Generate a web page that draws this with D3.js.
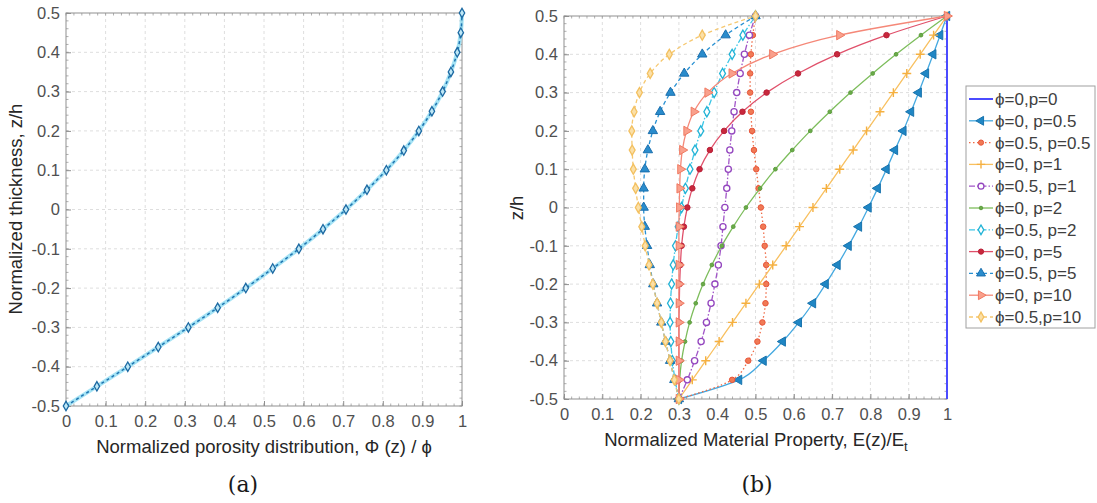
<!DOCTYPE html>
<html>
<head>
<meta charset="utf-8">
<script src="https://cdn.jsdelivr.net/npm/d3@7"></script>
<style>
  body { margin: 0; background: #fff; }
  text { font-family: "Liberation Sans", Arial, sans-serif; }
</style>
</head>
<body>
<svg id="chart" width="1097" height="503"></svg>
<script>
// Through-thickness positions z/h
const zLevels = [-0.5,-0.45,-0.4,-0.35,-0.3,-0.25,-0.2,-0.15,-0.1,-0.05,0,0.05,0.1,0.15,0.2,0.25,0.3,0.35,0.4,0.45,0.5];

// (a) normalized porosity distribution Φ(z)/ϕ
const porosityDistribution = [0,0.078,0.156,0.233,0.309,0.383,0.454,0.522,0.588,0.649,0.707,0.760,0.809,0.853,0.891,0.924,0.951,0.972,0.988,0.997,1.000];

// (b) normalized material property E(z)/Et
const E_phi0_p0    = [1,1,1,1,1,1,1,1,1,1,1,1,1,1,1,1,1,1,1,1,1];
const E_phi0_p05   = [0.300,0.457,0.521,0.571,0.613,0.650,0.683,0.714,0.743,0.770,0.795,0.819,0.842,0.864,0.886,0.906,0.926,0.945,0.964,0.982,1.000];
const E_phi05_p05  = [0.300,0.439,0.481,0.505,0.518,0.526,0.528,0.528,0.524,0.520,0.514,0.508,0.502,0.496,0.491,0.488,0.486,0.486,0.488,0.493,0.500];
const E_phi0_p1    = [0.300,0.335,0.370,0.405,0.440,0.475,0.510,0.545,0.580,0.615,0.650,0.685,0.720,0.755,0.790,0.825,0.860,0.895,0.930,0.965,1.000];
const E_phi05_p1   = [0.300,0.322,0.341,0.358,0.372,0.384,0.394,0.403,0.410,0.415,0.420,0.425,0.429,0.433,0.438,0.444,0.451,0.460,0.471,0.484,0.500];
const E_phi0_p2    = [0.300,0.302,0.307,0.316,0.328,0.344,0.363,0.386,0.412,0.442,0.475,0.512,0.552,0.596,0.643,0.694,0.748,0.806,0.867,0.932,1.000];
const E_phi05_p2   = [0.300,0.290,0.283,0.279,0.277,0.278,0.281,0.285,0.291,0.298,0.307,0.317,0.329,0.342,0.357,0.373,0.392,0.414,0.439,0.467,0.500];
const E_phi0_p5    = [0.300,0.300,0.300,0.300,0.300,0.301,0.302,0.304,0.307,0.313,0.322,0.335,0.354,0.381,0.418,0.466,0.529,0.611,0.713,0.842,1.000];
const E_phi05_p5   = [0.300,0.288,0.277,0.265,0.254,0.243,0.233,0.224,0.217,0.211,0.208,0.208,0.211,0.219,0.232,0.251,0.278,0.314,0.361,0.422,0.500];
const E_phi0_p10   = [0.300,0.300,0.300,0.300,0.300,0.300,0.300,0.300,0.300,0.300,0.301,0.302,0.304,0.309,0.320,0.339,0.375,0.438,0.544,0.719,1.000];
const E_phi05_p10  = [0.300,0.288,0.277,0.265,0.254,0.243,0.232,0.222,0.212,0.203,0.194,0.187,0.181,0.178,0.177,0.183,0.197,0.225,0.275,0.361,0.500];

const seriesNames = ["ϕ=0,p=0","ϕ=0, p=0.5","ϕ=0.5, p=0.5","ϕ=0, p=1","ϕ=0.5, p=1","ϕ=0, p=2","ϕ=0.5, p=2","ϕ=0, p=5","ϕ=0.5, p=5","ϕ=0, p=10","ϕ=0.5,p=10"];
const seriesValues = [E_phi0_p0,E_phi0_p05,E_phi05_p05,E_phi0_p1,E_phi05_p1,E_phi0_p2,E_phi05_p2,E_phi0_p5,E_phi05_p5,E_phi0_p10,E_phi05_p10];

// Tick values
const unitTicks = [0,0.1,0.2,0.3,0.4,0.5,0.6,0.7,0.8,0.9,1];
const zTicks = [-0.5,-0.4,-0.3,-0.2,-0.1,0,0.1,0.2,0.3,0.4,0.5];

// Line / marker styles for the right-hand plot
const seriesStyles = [
  {line:"#4b4bff", width:2,   dash:null,     marker:null},
  {line:"#45a9e0", width:1.3, dash:null,     marker:"left",    mc:"#1873ad", mf:"#1f86c4"},
  {line:"#ef6a45", width:1.3, dash:"1.5,2.5",marker:"circle",  mc:"#e8553a", mf:"#f07a55"},
  {line:"#f8c060", width:1.3, dash:null,     marker:"plus",    mc:"#f5b040", mf:"none"},
  {line:"#a155c8", width:1.3, dash:"6,2,1.5,2", marker:"ocircle", mc:"#9447bf", mf:"#fff"},
  {line:"#7dbd5c", width:1.3, dash:null,     marker:"dot",     mc:"#5e9e40", mf:"#6aab48"},
  {line:"#3cc6e6", width:1.3, dash:"6,2,1.5,2", marker:"diamond", mc:"#22b3d6", mf:"#fff"},
  {line:"#e0506a", width:1.3, dash:null,     marker:"circle",  mc:"#b81f38", mf:"#c8283c"},
  {line:"#2790d2", width:1.3, dash:"4,3",    marker:"up",      mc:"#1a6fae", mf:"#2a8ccc"},
  {line:"#f58878", width:1.3, dash:null,     marker:"right",   mc:"#f07a62", mf:"#f9a08c"},
  {line:"#f6c870", width:1.3, dash:"4,3",    marker:"diamond", mc:"#f3c060", mf:"#fbe0a8"}
];

const svg = d3.select("#chart");
svg.append("rect").attr("width",1097).attr("height",503).attr("fill","#fff");

const tickFmt = d => String(+(+d).toFixed(2));

function drawFrame(xr, yr, yPad) {
  const xs = d3.scaleLinear().domain([0,1]).range(xr);
  const ys = d3.scaleLinear().domain([-0.5,0.5]).range(yr);
  const g = svg.append("g");
  const [xL,xR] = xr, [yB,yT] = yr;

  // dashed grid
  g.append("g").selectAll("line").data(unitTicks.slice(1,-1)).join("line")
    .attr("x1",d=>xs(d)).attr("x2",d=>xs(d)).attr("y1",yT).attr("y2",yB)
    .attr("stroke","#dedede").attr("stroke-dasharray","3,3");
  g.append("g").selectAll("line").data(zTicks.slice(1,-1)).join("line")
    .attr("y1",d=>ys(d)).attr("y2",d=>ys(d)).attr("x1",xL).attr("x2",xR)
    .attr("stroke","#dedede").attr("stroke-dasharray","3,3");

  // minor ticks
  const minorX = d3.range(0,1.0001,0.02), minorY = d3.range(-0.5,0.5001,0.02);
  const tk = g.append("g").attr("stroke","#9a9a9a").attr("stroke-width",0.8);
  minorX.forEach(v => {
    tk.append("line").attr("x1",xs(v)).attr("x2",xs(v)).attr("y1",yB).attr("y2",yB-2.5);
    tk.append("line").attr("x1",xs(v)).attr("x2",xs(v)).attr("y1",yT).attr("y2",yT+2.5);
  });
  minorY.forEach(v => {
    tk.append("line").attr("y1",ys(v)).attr("y2",ys(v)).attr("x1",xL).attr("x2",xL+2.5);
    tk.append("line").attr("y1",ys(v)).attr("y2",ys(v)).attr("x1",xR).attr("x2",xR-2.5);
  });

  // major axes with inward ticks
  const ax = d3.axisBottom(xs).tickValues(unitTicks).tickFormat(tickFmt).tickSizeInner(-5).tickSizeOuter(0).tickPadding(9);
  const ay = d3.axisLeft(ys).tickValues(zTicks).tickFormat(tickFmt).tickSizeInner(-5).tickSizeOuter(0).tickPadding(yPad);
  const gx = g.append("g").attr("transform",`translate(0,${yB})`).call(ax);
  const gy = g.append("g").attr("transform",`translate(${xL},0)`).call(ay);
  [gx,gy].forEach(a => {
    a.select(".domain").remove();
    a.selectAll(".tick line").attr("stroke","#8f8f8f");
    a.selectAll(".tick text").attr("fill","#505050").style("font-size","16.5px")
      .style("font-family",'"Liberation Sans", Arial, sans-serif');
  });
  gx.selectAll(".tick text").attr("dy","0.72em");

  g.append("rect").attr("x",xL).attr("y",yT).attr("width",xR-xL).attr("height",yB-yT)
    .attr("fill","none").attr("stroke","#8f8f8f").attr("stroke-width",1);
  return {xs, ys, g};
}

function marker(g, type, x, y, mc, mf, s) {
  s = s || 1;
  let path, rot = 0, fill = mf, stroke = mc, sw = 1;
  switch (type) {
    case "left":  path = d3.symbol(d3.symbolTriangle, 38*s)(); rot = -90; break;
    case "right": path = d3.symbol(d3.symbolTriangle, 38*s)(); rot = 90; break;
    case "up":    path = d3.symbol(d3.symbolTriangle, 38*s)(); break;
    case "circle":  path = d3.symbol(d3.symbolCircle, 24*s)(); break;
    case "ocircle": path = d3.symbol(d3.symbolCircle, 30*s)(); sw = 1.3; break;
    case "dot":   path = d3.symbol(d3.symbolCircle, 11*s)(); break;
    case "diamond": path = d3.symbol(d3.symbolDiamond, 30*s)(); sw = 1.3; break;
    case "plus":  path = d3.symbol(d3.symbolPlus, 28*s)(); fill = "none"; sw = 1.4; break;
    default: return;
  }
  g.append("path").attr("d",path)
    .attr("transform",`translate(${x},${y}) rotate(${rot})`)
    .attr("fill",fill).attr("stroke",stroke).attr("stroke-width",sw);
}

// ---------- (a) porosity distribution ----------
{
  const {xs, ys, g} = drawFrame([66,462],[406,13], 6);
  const pts = zLevels.map((z,i)=>[xs(porosityDistribution[i]), ys(z)]);
  const ln = d3.line().curve(d3.curveMonotoneY);
  g.append("path").attr("d",ln(pts)).attr("fill","none").attr("stroke","#8fdcf2").attr("stroke-width",4).attr("opacity",0.8);
  g.append("path").attr("d",ln(pts)).attr("fill","none").attr("stroke","#1f74b0").attr("stroke-width",1.5).attr("stroke-dasharray","3,3");
  pts.forEach(p => marker(g,"diamond",p[0],p[1],"#1d6aa3","#bfe8f6",0.85));

  svg.append("text").attr("x",264).attr("y",453).attr("text-anchor","middle")
    .attr("fill","#262626").style("font-size","18.5px")
    .text("Normalized porosity distribution, Φ (z) / ϕ");
  svg.append("text").attr("transform","translate(22,209) rotate(-90)").attr("text-anchor","middle")
    .attr("fill","#262626").style("font-size","18.5px").text("Normalized thickness, z/h");
  svg.append("text").attr("x",243).attr("y",492).attr("text-anchor","middle")
    .attr("fill","#1a1a1a").style("font-size","22px").style("font-family",'"DejaVu Serif", serif')
    .text("(a)");
}

// ---------- (b) material property ----------
{
  const {xs, ys, g} = drawFrame([564,947],[399,16], 6);
  const ln = d3.line().curve(d3.curveMonotoneY);
  seriesValues.forEach((vals, k) => {
    const st = seriesStyles[k];
    const pts = zLevels.map((z,i)=>[xs(vals[i]), ys(z)]);
    const p = g.append("path").attr("d",ln(pts)).attr("fill","none")
      .attr("stroke",st.line).attr("stroke-width",st.width);
    if (st.dash) p.attr("stroke-dasharray",st.dash);
    if (st.marker) pts.forEach(q => marker(g, st.marker, q[0], q[1], st.mc, st.mf, 1));
  });

  const xl = svg.append("text").attr("x",756).attr("y",446).attr("text-anchor","middle")
    .attr("fill","#262626").style("font-size","18.5px");
  xl.append("tspan").text("Normalized Material Property, E(z)/E");
  xl.append("tspan").attr("dy",5).style("font-size","13px").text("t");
  svg.append("text").attr("transform","translate(523,208) rotate(-90)").attr("text-anchor","middle")
    .attr("fill","#262626").style("font-size","18.5px").text("z/h");
  svg.append("text").attr("x",757).attr("y",492).attr("text-anchor","middle")
    .attr("fill","#1a1a1a").style("font-size","22px").style("font-family",'"DejaVu Serif", serif')
    .text("(b)");

  // legend
  const lg = svg.append("g");
  lg.append("rect").attr("x",966).attr("y",86).attr("width",129).attr("height",242)
    .attr("fill","#fff").attr("stroke","#a0a0a0").attr("stroke-width",1);
  seriesNames.forEach((name, k) => {
    const st = seriesStyles[k];
    const cy = 99 + k*21.8;
    const l = lg.append("line").attr("x1",969).attr("x2",993).attr("y1",cy).attr("y2",cy)
      .attr("stroke",st.line).attr("stroke-width",st.width);
    if (st.dash) l.attr("stroke-dasharray",st.dash);
    if (st.marker) marker(lg, st.marker, 981, cy, st.mc, st.mf, 0.9);
    lg.append("text").attr("x",995).attr("y",cy+6).attr("fill","#404040")
      .style("font-size","17px").text(name);
  });
}
</script>
</body>
</html>
